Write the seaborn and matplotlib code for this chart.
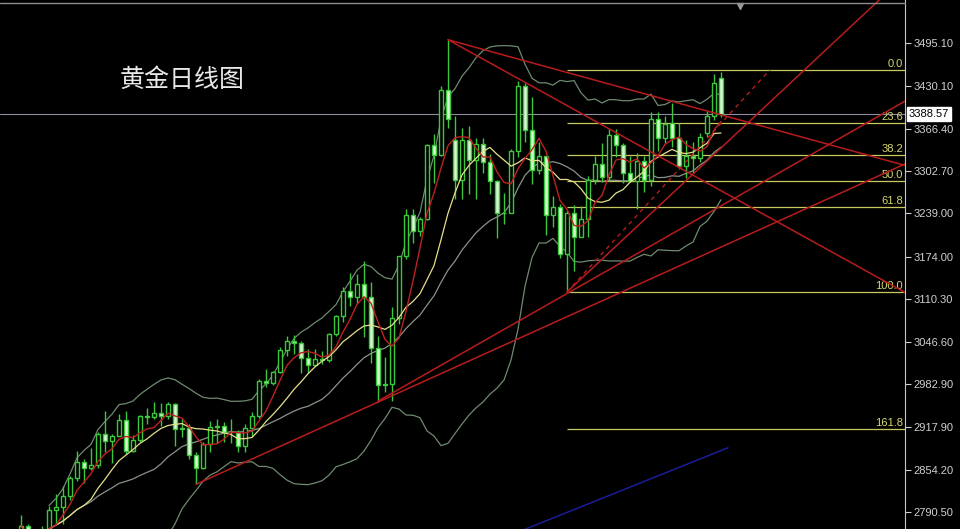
import numpy as np
import pandas as pd
import seaborn as sns
import matplotlib.pyplot as plt
import matplotlib.transforms as mtransforms
from matplotlib.lines import Line2D

# daily gold candles (Jan 24 -> Jun 16)
opens = [2755, 2770, 2740, 2763, 2759, 2794, 2798, 2815, 2842, 2866,
         2856, 2861, 2908, 2897, 2905, 2928, 2882, 2898, 2935, 2933,
         2939, 2935, 2952, 2915, 2916, 2876, 2857, 2893, 2918, 2920,
         2911, 2910, 2889, 2916, 2934, 2988, 2984, 3001, 3034, 3047,
         3044, 3022, 3011, 3020, 3019, 3058, 3085, 3123, 3114, 3133,
         3114, 3037, 2982, 2983, 3082, 3175, 3237, 3212, 3230, 3342,
         3327, 3424, 3350, 3290, 3350, 3319, 3344, 3317, 3288, 3239,
         3240, 3333, 3431, 3365, 3305, 3325, 3236, 3248, 3178, 3240,
         3203, 3230, 3290, 3314, 3294, 3357, 3342, 3300, 3288, 3318,
         3289, 3381, 3353, 3375, 3352, 3310, 3325, 3322, 3360, 3386,
         3443]
highs = [2786, 2772, 2765, 2770, 2799, 2817, 2830, 2845, 2882, 2870,
         2886, 2911, 2942, 2908, 2938, 2942, 2906, 2936, 2947, 2955,
         2954, 2956, 2954, 2930, 2922, 2880, 2896, 2927, 2930, 2926,
         2930, 2914, 2922, 2940, 2990, 3005, 3002, 3038, 3055, 3057,
         3047, 3036, 3035, 3033, 3060, 3087, 3128, 3149, 3148, 3168,
         3136, 3055, 3023, 3099, 3175, 3245, 3245, 3234, 3344, 3358,
         3430, 3500, 3386, 3367, 3371, 3352, 3353, 3328, 3290, 3269,
         3336, 3438, 3435, 3414, 3347, 3326, 3265, 3253, 3244, 3252,
         3250, 3296, 3325, 3345, 3366, 3366, 3345, 3325, 3330, 3326,
         3392, 3392, 3385, 3405, 3375, 3349, 3347, 3360, 3393, 3448,
         3452]
lows = [2752, 2730, 2730, 2745, 2752, 2772, 2772, 2809, 2837, 2834,
        2853, 2857, 2880, 2864, 2904, 2877, 2881, 2896, 2922, 2930,
        2919, 2930, 2890, 2903, 2870, 2832, 2855, 2880, 2894, 2896,
        2894, 2880, 2880, 2905, 2932, 2978, 2982, 2999, 3025, 3028,
        2999, 3000, 3010, 3013, 3016, 3055, 3076, 3100, 3105, 3054,
        3015, 2956, 2970, 2957, 3073, 3170, 3194, 3205, 3229, 3284,
        3325, 3367, 3260, 3260, 3268, 3261, 3300, 3268, 3202, 3223,
        3240, 3324, 3347, 3283, 3299, 3207, 3219, 3172, 3121, 3153,
        3205, 3204, 3283, 3286, 3288, 3324, 3285, 3286, 3245, 3271,
        3280, 3333, 3345, 3339, 3306, 3293, 3300, 3317, 3354, 3380,
        3384]
closes = [2770, 2740, 2763, 2759, 2794, 2798, 2815, 2842, 2866, 2856,
          2861, 2908, 2897, 2905, 2928, 2882, 2898, 2935, 2933, 2939,
          2935, 2952, 2915, 2916, 2876, 2857, 2893, 2918, 2920, 2911,
          2910, 2889, 2916, 2934, 2988, 2984, 3001, 3034, 3047, 3044,
          3022, 3011, 3020, 3019, 3058, 3085, 3123, 3114, 3133, 3114,
          3037, 2982, 2983, 3082, 3175, 3237, 3212, 3230, 3342, 3327,
          3424, 3381, 3290, 3350, 3319, 3344, 3317, 3288, 3239, 3240,
          3333, 3431, 3365, 3305, 3325, 3236, 3248, 3178, 3240, 3203,
          3230, 3290, 3314, 3294, 3357, 3342, 3300, 3288, 3318, 3289,
          3381, 3353, 3373, 3352, 3310, 3325, 3322, 3354, 3386, 3435,
          3388.57]

current_price = 3388.57

# fibonacci retracement (May 15 low -> June high)
fib_start = 78
fib_high = 3454.0
fib_low = 3120.8
fib_levels = [0.0, 23.6, 38.2, 50.0, 61.8, 100.0, 161.8]

# drawn trend lines: (start index, start price), (second index, second price)
down_line_1 = [(61, 3500.0), (126, 3312.0)]
down_line_2 = [(61, 3500.0), (126, 3122.0)]
up_line_1 = [(78, 3121.0), (115, 3485.0)]
up_line_2 = [(51, 2957.0), (126, 3406.0)]
up_line_3 = [(25, 2832.0), (126, 3312.0)]
dashed_line = [(78, 3121.0), (107, 3455.0)]
blue_line = [(70, 2756.0), (101, 2887.0)]

tick_vals = [3495.10, 3430.10, 3366.40, 3302.70, 3239.00, 3174.00,
             3110.30, 3046.60, 2982.90, 2917.90, 2854.20, 2790.50]

df = pd.DataFrame({"open": opens, "high": highs, "low": lows, "close": closes})
df["idx"] = np.arange(len(df))

# indicators: MA5 (red), MA10 (yellow), bollinger 20,2
df["ma5"] = df["close"].rolling(5, min_periods=1).mean()
df["ma10"] = df["close"].rolling(10, min_periods=1).mean()
df["mid"] = df["close"].rolling(20, min_periods=5).mean()
sd = df["close"].rolling(20, min_periods=5).std(ddof=0)
df["upper"] = df["mid"] + 2 * sd
df["lower"] = df["mid"] - 2 * sd

sns.set_theme(style="dark", rc={"axes.facecolor": "black", "figure.facecolor": "black",
                                "axes.grid": False})
plt.rcParams["font.family"] = ["Noto Sans CJK SC", "DejaVu Sans"]

fig = plt.figure(figsize=(9.6, 5.29), dpi=100)
ax = fig.add_axes([0, 0, 905 / 960, 1])
ax.set_facecolor("black")

xmin, xmax = -3.0, -3.0 + 905 / 7
ax.set_xlim(xmin, xmax)
ax.set_ylim(2764.9, 3559.7)

# -------------------------------
# indicator lines
# -------------------------------
band_col = "#6f8a6f"
sns.lineplot(x=df["idx"], y=df["upper"], ax=ax, color=band_col, lw=0.9, zorder=2)
sns.lineplot(x=df["idx"], y=df["lower"], ax=ax, color=band_col, lw=0.9, zorder=2)
sns.lineplot(x=df["idx"], y=df["mid"], ax=ax, color="#8a9488", lw=0.9, zorder=2)
sns.lineplot(x=df["idx"], y=df["ma10"], ax=ax, color="#e6e08a", lw=0.9, zorder=5)
sns.lineplot(x=df["idx"], y=df["ma5"], ax=ax, color="#c02020", lw=1.0, zorder=5)

# -------------------------------
# candles
# -------------------------------
green = "#3cc83c"
up = df["close"] >= df["open"]
dn = ~up
ax.vlines(df["idx"], df["low"], df["high"], color=green, lw=1.0, zorder=3)
ax.bar(df["idx"][up], np.maximum((df["close"] - df["open"])[up], 1.0),
       bottom=df["open"][up], width=0.62, facecolor="black", edgecolor=green,
       lw=1.0, zorder=4)
ax.bar(df["idx"][dn], np.maximum((df["open"] - df["close"])[dn], 1.0),
       bottom=df["close"][dn], width=0.62, facecolor="#d6f7cf", edgecolor=green,
       lw=1.0, zorder=4)

# -------------------------------
# fibonacci levels
# -------------------------------
fib_col = "#c8c860"
blend = mtransforms.blended_transform_factory(ax.transAxes, ax.transData)
for lv in fib_levels:
    price = fib_high - lv / 100 * (fib_high - fib_low)
    ax.hlines(price, fib_start, xmax, color=fib_col, lw=0.9, zorder=1)
    ax.text(0.998, price + 1.5, f"{lv:.1f}", transform=blend, ha="right", va="bottom",
            color="#d8d870", fontsize=8, family="Liberation Sans", zorder=6)


# -------------------------------
# trend lines (rays to the right edge)
# -------------------------------
def ray(pts, **kw):
    (x0, y0), (x1, y1) = pts
    slope = (y1 - y0) / (x1 - x0)
    ax.plot([x0, xmax + 5], [y0, y0 + slope * (xmax + 5 - x0)], **kw)


red = "#b81c1c"
for pts in [down_line_1, down_line_2, up_line_1, up_line_2, up_line_3]:
    ray(pts, color=red, lw=1.1, zorder=6)
(dx0, dy0), (dx1, dy1) = dashed_line
ax.plot([dx0, dx1], [dy0, dy1], color=red, lw=1.0, ls=(0, (3, 3)), zorder=6)
(bx0, by0), (bx1, by1) = blue_line
ax.plot([bx0, bx1], [by0, by1], color="#1c1c9c", lw=1.1, zorder=6)
ax.set_xlim(xmin, xmax)
ax.set_ylim(2764.9, 3559.7)

# current price line + box
ax.axhline(current_price, color="#8e8ea2", lw=0.8, zorder=1)
ax.text(1.0 + 4 / 905, current_price, f"{current_price:.2f}", transform=blend,
        ha="left", va="center", color="black", fontsize=8, family="Liberation Sans",
        bbox=dict(boxstyle="square,pad=0.2", fc="white", ec="white"), clip_on=False)

# axes look
ax.set_xticks([])
ax.yaxis.tick_right()
ax.set_yticks(tick_vals)
ax.set_yticklabels([f"{v:.2f}" for v in tick_vals], family="Liberation Sans")
ax.tick_params(axis="y", colors="#d0d0d0", labelsize=8, length=4, width=0.8,
               direction="out", pad=2, left=False, right=True)
for side in ["top", "left", "bottom"]:
    ax.spines[side].set_visible(False)
ax.spines["right"].set_color("#c8c8c8")
ax.spines["right"].set_linewidth(0.8)
ax.set_xlabel("")
ax.set_ylabel("")

# window top border and chart-shift marker
fig.add_artist(Line2D([0, 905 / 960], [1 - 3 / 529] * 2, transform=fig.transFigure,
                      color="#8c8c8c", lw=1.0))
ax.plot([740 / 905], [1 - 6 / 529], marker="v", color="#9a9a9a", markersize=5,
        transform=ax.transAxes, clip_on=False)

fig.text(120 / 960, 1 - 80 / 529, "黄金日线图", color="#e8e8e8", fontsize=18,
         va="center", ha="left")

fig.savefig("out.png", dpi=100, facecolor="black")
